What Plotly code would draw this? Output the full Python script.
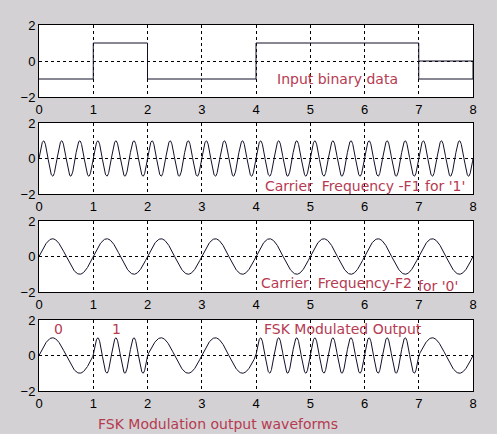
import numpy as np
import plotly.graph_objects as go

# ---- data ----
bits = [0, 1, 0, 0, 1, 1, 1, 0]          # input binary data, one bit per unit of time
f1 = 3                                    # carrier F1 (cycles per bit) used for '1'
f2 = 1                                    # carrier F2 (cycles per bit) used for '0'
amplitude = 1
x_ticks = [0, 1, 2, 3, 4, 5, 6, 7, 8]
y_ticks = [-2, 0, 2]
titles = ["Input binary data", "Carrier\u00a0 Frequency -F1 for '1'",
          "Carrier\u00a0 Frequency-F2", "for '0'", "FSK Modulated Output"]
bit_labels = ["0", "1"]
caption = "FSK Modulation output waveforms"

W, H = 497, 434
samples_per_bit = 200
n = len(bits)
t = np.linspace(0, n, n * samples_per_bit + 1)

# binary level signal (stairs), with the small segment at zero on the last bit
bx, by = [], []
for i, b in enumerate(bits):
    lvl = amplitude if b else -amplitude
    bx += [i, i + 1]
    by += [lvl, lvl]
bx += [n, n - 1]
by += [0, 0]

c1 = amplitude * np.sin(2 * np.pi * f1 * t)
c2 = amplitude * np.sin(2 * np.pi * f2 * t)
bit_idx = np.minimum(np.floor(t).astype(int), n - 1)
sel = np.array(bits)[bit_idx]
fsk = np.where(sel == 1, c1, c2)

fig = go.Figure()
line = dict(color="#10102a", width=1)
fig.add_trace(go.Scatter(x=bx, y=by, mode="lines", line=line, xaxis="x", yaxis="y"))
fig.add_trace(go.Scatter(x=t, y=c1, mode="lines", line=line, xaxis="x2", yaxis="y2"))
fig.add_trace(go.Scatter(x=t, y=c2, mode="lines", line=line, xaxis="x3", yaxis="y3"))
fig.add_trace(go.Scatter(x=t, y=fsk, mode="lines", line=line, xaxis="x4", yaxis="y4"))

tickfont = dict(family="Liberation Sans, Arial, sans-serif", size=13, color="black")
xdom = [39 / W, 473 / W]
boxes = [(25, 97), (123, 194), (221, 292), (320, 391)]
layout = dict(width=W, height=H, margin=dict(l=0, r=0, t=0, b=0),
              paper_bgcolor="#d3d1d3", plot_bgcolor="white", showlegend=False)
for k, (top, bot) in enumerate(boxes):
    sfx = "" if k == 0 else str(k + 1)
    layout["xaxis" + sfx] = dict(
        domain=xdom, range=[0, n], tickvals=x_ticks, anchor="y" + sfx,
        showline=True, linecolor="black", linewidth=1, mirror=True,
        showgrid=True, gridcolor="black", griddash="3px,3px", gridwidth=1,
        zeroline=False, tickfont=tickfont, ticks="", automargin=False,
        fixedrange=True)
    layout["yaxis" + sfx] = dict(
        domain=[1 - bot / H, 1 - top / H], range=[-2, 2], tickvals=y_ticks,
        anchor="x" + sfx,
        showline=True, linecolor="black", linewidth=1, mirror=True,
        showgrid=True, gridcolor="black", griddash="3px,3px", gridwidth=1,
        zeroline=False, tickfont=tickfont, ticks="", automargin=False,
        fixedrange=True)
fig.update_layout(**layout)

tfont = dict(family="DejaVu Sans, Verdana, sans-serif", size=14, color="#b63a52")
ann = [
    (titles[0], 275, 79),
    (titles[1], 263, 186),
    (titles[2], 259, 283),
    (titles[3], 416, 286),
    (titles[4], 262, 329),
    (bit_labels[0], 52, 329),
    (bit_labels[1], 110, 329),
    (caption, 96, 424),
]
for txt, px, py in ann:
    fig.add_annotation(text=txt, x=px / W, y=1 - py / H, xref="paper", yref="paper",
                       xanchor="left", yanchor="middle", showarrow=False, font=tfont)

fig.write_html("out.html", config={"displayModeBar": False},
               post_script="document.body.style.margin='0';"
                           "document.body.style.overflow='hidden';")
